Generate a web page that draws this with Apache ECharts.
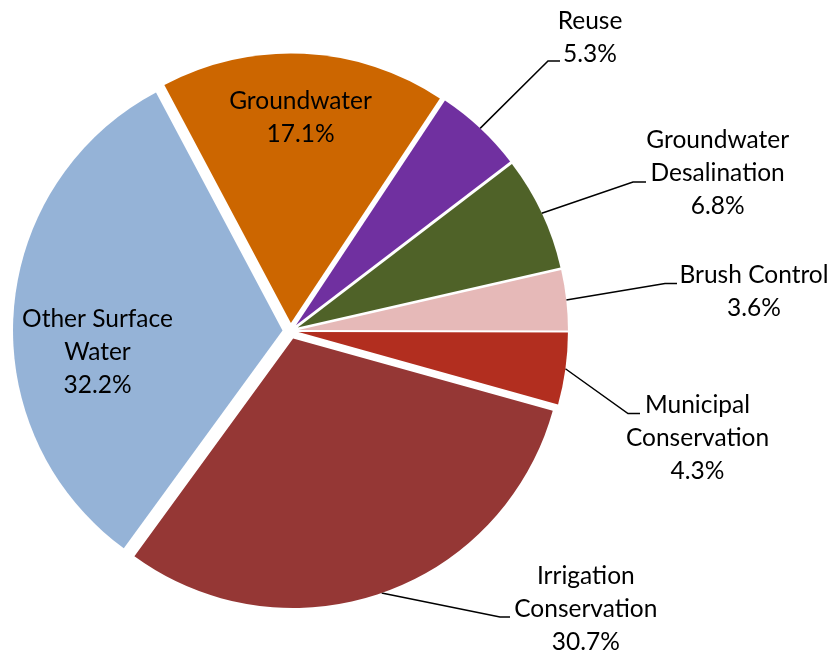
<!DOCTYPE html>
<html>
<head>
<meta charset="utf-8">
<script src="https://cdn.jsdelivr.net/npm/echarts@6/dist/echarts.min.js"></script>
<style>
  html, body { margin: 0; padding: 0; background: #ffffff; }
  #chart { width: 833px; height: 653px; }
</style>
</head>
<body>
<div id="chart"></div>
<script>
// Water supply strategies, share of total (%)
const categories = [
  'Groundwater',
  'Reuse',
  'Groundwater\nDesalination',
  'Brush Control',
  'Municipal\nConservation',
  'Irrigation\nConservation',
  'Other Surface\nWater'
];
const shares = [17.1, 5.3, 6.8, 3.6, 4.3, 30.7, 32.2];
const colors = ['#CC6600', '#7030A0', '#4F6228', '#E6B9B8', '#B22E1F', '#953735', '#95B3D7'];

// Pie geometry (pixels) and rotation (echarts startAngle: degrees counter-clockwise from 3 o'clock)
const CX = 290.5, CY = 331, R = 269.5, EXPLODE = 8, START_ANGLE = 118;

// Label text-block centres
const labelCenters = [
  [300.5, 117.5], [590, 38], [717.7, 173], [754, 291.5], [697.5, 438.3], [585.8, 609.5], [97.5, 352]
];
// Leader lines: elbow x, elbow y, end x (null = label sits inside its slice)
const leaderBends = [null, [548, 61, 560], [633, 182, 646], [665, 283.5, 677], [628, 413.5, 640], [500, 617, 510], null];

const total = shares.reduce((a, b) => a + b, 0);

// Mid-angle of slice i, degrees clockwise from 12 o'clock
function midAngle(i) {
  let before = 0;
  for (let k = 0; k < i; k++) before += shares[k];
  return (90 - START_ANGLE) + (before + shares[i] / 2) / total * 360;
}
function polar(cx, cy, r, deg) {
  const rad = deg * Math.PI / 180;
  return [cx + r * Math.sin(rad), cy - r * Math.cos(rad)];
}

const labelStyle = {
  color: '#000000',
  fontFamily: 'Lato',
  fontSize: 24.5,
  lineHeight: 33,
  formatter: p => p.name + '\n' + p.value.toFixed(1) + '%'
};

// Each slice is pulled out along its own bisector, so every slice gets its own
// pie series (same data, same angles) where only that slice is painted.
const series = categories.map((_, i) => {
  const centre = polar(CX, CY, EXPLODE, midAngle(i));
  const inside = leaderBends[i] === null;
  return {
    type: 'pie',
    center: centre,
    radius: [0, R],
    startAngle: START_ANGLE,
    clockwise: true,
    silent: true,
    avoidLabelOverlap: false,
    emphasis: { disabled: true },
    itemStyle: { borderWidth: 0 },
    label: Object.assign({ show: false, position: inside ? 'inside' : 'outside' }, labelStyle),
    labelLine: { show: false, smooth: false, lineStyle: { color: '#000000', width: 1.5 } },
    labelLayout: function (params) {
      const k = params.dataIndex;
      const out = {
        x: labelCenters[k][0],
        y: labelCenters[k][1],
        align: 'center',
        verticalAlign: 'middle'
      };
      const bend = leaderBends[k];
      if (bend) {
        out.labelLinePoints = [
          polar(centre[0], centre[1], R, midAngle(k)),
          [bend[0], bend[1]],
          [bend[2], bend[1]]
        ];
      }
      return out;
    },
    data: categories.map((name, k) => ({
      name: name,
      value: shares[k],
      itemStyle: { color: k === i ? colors[k] : 'rgba(0,0,0,0)' },
      label: { show: k === i },
      labelLine: { show: k === i && !inside }
    }))
  };
});

const chart = echarts.init(document.getElementById('chart'), null, { renderer: 'canvas' });
chart.setOption({
  backgroundColor: '#ffffff',
  animation: false,
  series: series
});
</script>
</body>
</html>
